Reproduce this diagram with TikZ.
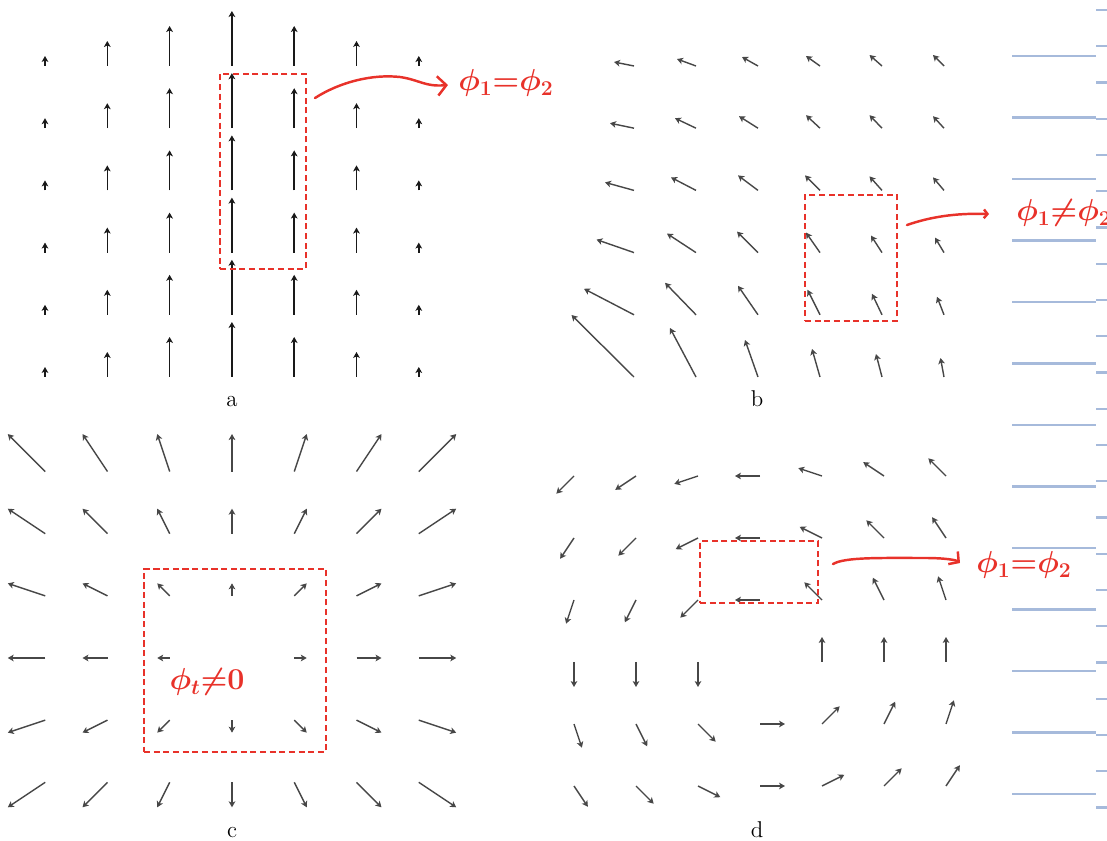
\documentclass[tikz,border=0pt]{standalone}
\usepackage{tikz}
\usetikzlibrary{arrows.meta,fit}

\definecolor{penred}{HTML}{E8322A}
\definecolor{ruleblue}{HTML}{A6BADB}

\begin{document}
\begin{tikzpicture}[
  x=0.02cm, y=-0.02cm,
  >={Stealth[length=3.4pt,width=3.8pt,inset=0.9pt]},
  vec/.style={->, line width=0.8pt, black!72},
  redbox/.style={draw=penred, line width=1.1pt, dash pattern=on 3.5pt off 2pt, inner sep=0pt},
  pentext/.style={text=penred, inner sep=0pt, font=\fontsize{18}{20}\selectfont\boldmath},
  penline/.style={draw=penred, line width=1.4pt, line cap=round},
  caption/.style={anchor=base, font=\fontsize{13}{15}\selectfont},
  rule/.style={ruleblue, line width=1.3pt}
]
\useasboundingbox (0,0) rectangle (1107,841);

% field a
\foreach \i in {0,...,6}
  \foreach \j in {0,...,5}
    \draw[vec, black!90] ({45+62.3*\i},{66+62.2*\j}) -- ++(0,{-(55-15*abs(\i-3))});

% field b
\foreach \i/\j/\dx/\dy in {
  0/0/-20/4, 1/0/-19/7, 2/0/-16/9, 3/0/-14/10, 4/0/-12.5/11, 5/0/-11/11,
  0/1/-24/5, 1/1/-21/10, 2/1/-19/12, 3/1/-14/13, 4/1/-12.5/13, 5/1/-11/12,
  0/2/-29/8, 1/2/-25/13, 2/2/-20/15, 3/2/-15/15, 4/2/-12.5/14, 5/2/-11/13,
  0/3/-37.5/13, 1/3/-29/19, 2/3/-21/21, 3/3/-14/20, 4/3/-11/17, 5/3/-9/15,
  0/4/-50/26, 1/4/-31/32, 2/4/-20/29, 3/4/-12.5/25, 4/4/-10/21, 5/4/-7/18,
  0/5/-62.5/62, 1/5/-26/49, 2/5/-13/37, 3/5/-8/28, 4/5/-6/23, 5/5/-3.5/19}
  \draw[vec] ({634+62*\i},{66+62.2*\j}) -- ++(\dx,-\dy);

% field c
\foreach \x in {-3,...,3}
  \foreach \y in {-2,...,3} {
    \pgfmathtruncatemacro\rr{\x*\x+\y*\y}
    \ifnum\rr>0
      \draw[vec] ({232+62.25*\x},{658-62.15*\y}) -- ++({12.5*\x},{-12.5*\y});
    \fi
  }

% field d
\foreach \x in {-3,...,3}
  \foreach \y in {-2,...,3} {
    \pgfmathtruncatemacro\rr{\x*\x+\y*\y}
    \ifnum\rr>0
      \pgfmathsetmacro\s{25/sqrt(\rr)}
      \draw[vec] ({760+62*\x},{662-62*\y}) -- ++({-\s*(\y)},{-\s*(\x)});
    \fi
  }

\node[caption] (capa) at (232,407) {a};
\node[caption] (capb) at (757,407) {b};
\node[caption] (capc) at (232,837) {c};
\node[caption] (capd) at (757,837) {d};

% ruled margin
\foreach \k in {0,...,12}
  \draw[rule] (1012,{56+61.5*\k}) -- (1096,{56+61.5*\k});
\foreach \k in {0,...,22}
  \draw[rule] (1096,{10+36.25*\k}) -- (1107,{10+36.25*\k});

\node[redbox, fit={(220,74) (306,269)}] (boxa) {};
\node[redbox, fit={(805,195) (897,321)}] (boxb) {};
\node[redbox, fit={(144,569) (326,752)}] (boxc) {};
\node[redbox, fit={(700,541) (818,603)}] (boxd) {};

\node[pentext] (texta) at (506,83) {$\phi_1{=}\phi_2$};
\node[pentext, anchor=west] (textb) at (1016,213) {$\phi_1{\neq}\phi_2$};
\node[pentext] (textc) at (207,682) {$\phi_t{\neq}0$};
\node[pentext] (textd) at (1024,565) {$\phi_1{=}\phi_2$};

\draw[penline, -{Straight Barb[length=5pt,width=11pt]}] ([shift={(8,25)}]boxa.north east)
  .. controls (340,82) and (372,74) .. (400,77)
  .. controls (420,80) and (425,87) .. ([shift={(-10,2)}]texta.west);
\draw[penline, -{Straight Barb[length=2pt,width=5pt]}] ([shift={(9,31)}]boxb.north east)
  .. controls (930,217) and (955,213) .. ([shift={(-27,1)}]textb.west);
\draw[penline, -{Straight Barb[length=4pt,width=9pt]}] ([shift={(14,24)}]boxd.north east)
  .. controls (845,557) and (880,558) .. (925,558)
  .. controls (945,558) and (956,560) .. ([shift={(-16,-2)}]textd.west);
\end{tikzpicture}
\end{document}
